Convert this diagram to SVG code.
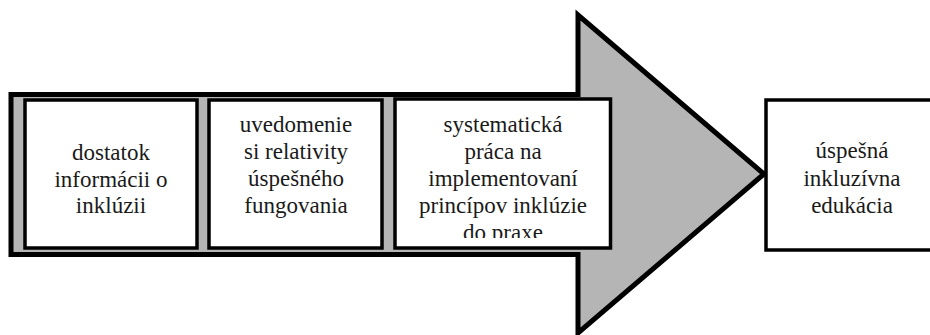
<svg xmlns="http://www.w3.org/2000/svg" width="930" height="335" viewBox="0 0 930 335">
  <defs>
    <style>
      .box { fill: #ffffff; stroke: #000000; stroke-width: 3.5; }
      .lbl { font-size: 23px; fill: #1a1a1a; text-anchor: middle; }
    </style>
    <clipPath id="clip3">
      <rect x="397" y="101" width="212" height="137"/>
    </clipPath>
  </defs>
  <rect x="0" y="0" width="930" height="335" fill="#ffffff"/>
  <g id="connectors">
    <path id="big-arrow" d="M11,94.5 L578,94.5 L578,15 L764,174 L578,333 L578,254.5 L11,254.5 Z" fill="#b5b5b5" stroke="#000000" stroke-width="5" stroke-linejoin="miter" stroke-miterlimit="6"/>
  </g>
  <g font-family="Liberation Serif, Tinos, DejaVu Serif, serif">
  <g id="node1">
    <rect class="box" x="25" y="100" width="172" height="148"/>
    <text class="lbl" x="111" y="160">dostatok</text>
    <text class="lbl" x="111" y="186.5">informácii o</text>
    <text class="lbl" x="111" y="213">inklúzii</text>
  </g>
  <g id="node2">
    <rect class="box" x="209" y="100" width="173" height="148"/>
    <text class="lbl" x="296" y="132">uvedomenie</text>
    <text class="lbl" x="296" y="159">si relativity</text>
    <text class="lbl" x="296" y="186">úspešného</text>
    <text class="lbl" x="296" y="213">fungovania</text>
  </g>
  <g id="node3">
    <rect class="box" x="395" y="99" width="215.5" height="149"/>
    <g clip-path="url(#clip3)">
      <text class="lbl" x="503" y="132">systematická</text>
      <text class="lbl" x="503" y="159">práca na</text>
      <text class="lbl" x="503" y="186">implementovaní</text>
      <text class="lbl" x="503" y="213">princípov inklúzie</text>
      <text class="lbl" x="503" y="240">do praxe</text>
    </g>
  </g>
  <g id="node4">
    <rect class="box" x="766" y="100" width="175" height="150"/>
    <text class="lbl" x="852" y="158">úspešná</text>
    <text class="lbl" x="852" y="186">inkluzívna</text>
    <text class="lbl" x="852" y="213">edukácia</text>
  </g>
  </g>
</svg>
